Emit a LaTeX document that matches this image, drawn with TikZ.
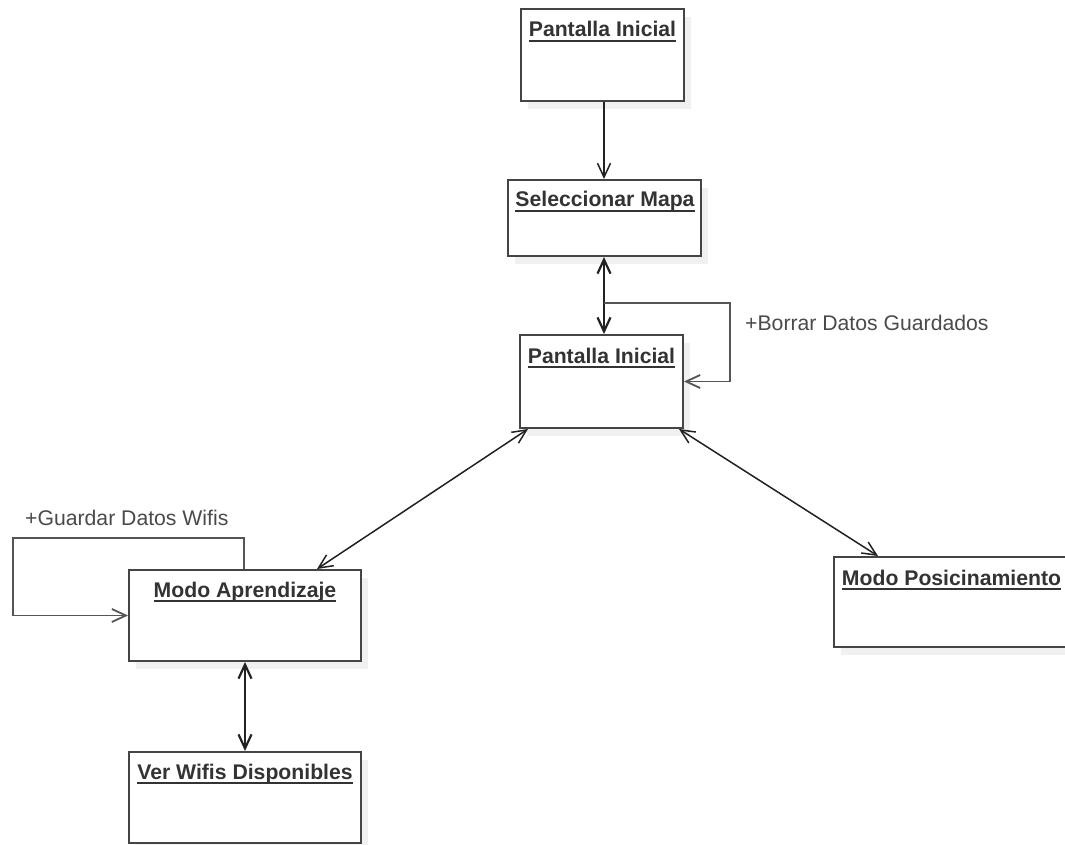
\documentclass[tikz,border=0pt]{standalone}
\usepackage{fontspec}
\setmainfont{Liberation Sans}
\usetikzlibrary{arrows.meta,shadows}
\definecolor{boxc}{HTML}{444444}
\definecolor{arrc}{HTML}{222222}
\definecolor{loopc}{HTML}{555555}
\definecolor{txtc}{HTML}{333333}
\definecolor{lblc}{HTML}{4A4A4A}
\begin{document}
\begin{tikzpicture}[x=1pt,y=-1pt,
  >={Straight Barb[length=14pt,width=13pt]},
  box/.style={draw=boxc, line width=2pt, fill=white, rectangle, inner sep=0pt,
    drop shadow={shadow xshift=7pt,shadow yshift=-8pt,fill=black!6,opacity=1}},
  ttl/.style={font=\fontsize{21.2}{25}\selectfont\bfseries, text=txtc, inner sep=0pt, anchor=base},
  uline/.style={draw=txtc, line width=1.3pt},
  lbl/.style={font=\fontsize{21.2}{25}\selectfont, text=lblc, inner sep=0pt, anchor=base west},
  con/.style={draw=arrc, line width=1.5pt},
  dcon/.style={draw=arrc, line width=2.2pt},
  loopl/.style={draw=loopc, line width=1.8pt}
]
\useasboundingbox (0,0) rectangle (1065,845);
\fill[white] (0,0) rectangle (1065,845);

% boxes
\node[box, minimum width=163pt, minimum height=92pt] (b1) at (602.5,55) {};
\node[box, minimum width=193pt, minimum height=76pt] (b2) at (604.5,218) {};
\node[box, minimum width=163pt, minimum height=93pt] (b3) at (601.5,381.5) {};
\node[box, minimum width=232pt, minimum height=91pt] (b4) at (245,615.5) {};
\node[box, minimum width=232pt, minimum height=91pt] (b5) at (245,797.5) {};
\node[box, minimum width=236pt, minimum height=90pt] (b6) at (952,602) {};

% titles
\node[ttl] (t1) at (602.5,37) {Pantalla Inicial};
\node[ttl] (t2) at (605,207) {Seleccionar Mapa};
\node[ttl] (t3) at (601.5,363) {Pantalla Inicial};
\node[ttl] (t4) at (245,597) {Modo Aprendizaje};
\node[ttl] (t5) at (245,779) {Ver Wifis Disponibles};
\node[ttl] (t6) at (951.5,585) {Modo Posicinamiento};
\foreach \t in {t1,t2,t3,t4,t5,t6}{
  \draw[uline] ([yshift=-4pt]\t.base west) -- ([yshift=-4pt]\t.base east);
}

% connectors
\draw[con,->] ([xshift=1.5pt]b1.south) -- ([xshift=1.5pt]b1.south |- b2.north);
\draw[dcon,<->] ([xshift=-0.5pt]b2.south) -- ([xshift=-0.5pt]b2.south |- b3.north);
\draw[con,<->] ([xshift=9pt]b3.south west) -- ([xshift=72pt]b4.north);
\draw[con,<->] ([xshift=-5pt]b3.south east) -- ([xshift=45pt]b6.north west);
\draw[dcon,<->] (b4.south) -- (b4.south |- b5.north);

% self loop on Pantalla Inicial
\coordinate (c1) at (604,303);
\coordinate (c2) at (730,303);
\draw[loopl,->] (c1) -- (c2) |- (b3.east);
\node[lbl] (l1) at (745,330) {+Borrar Datos Guardados};

% self loop on Modo Aprendizaje
\coordinate (c3) at (244,538);
\coordinate (c4) at (13,538);
\draw[loopl,->] ([xshift=-1pt]b4.north) -- (c3) -- (c4) |- (b4.west);
\node[lbl] (l2) at (25,525) {+Guardar Datos Wifis};
\end{tikzpicture}
\end{document}
